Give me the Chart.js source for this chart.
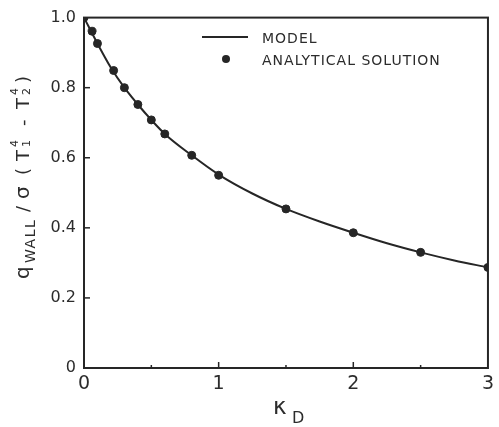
<!DOCTYPE html>
<html>
<head>
<meta charset="utf-8">
<script src="https://cdn.jsdelivr.net/npm/chart.js@4.4.1/dist/chart.umd.min.js"></script>
<style>
  html, body { margin: 0; padding: 0; background: #fff; }
  #wrap { width: 499px; height: 427px; position: relative; }
</style>
</head>
<body>
<div id="wrap"><canvas id="c"></canvas></div>
<script>
// ---- data ----
const kappaD = [0, 0.06, 0.1, 0.22, 0.3, 0.4, 0.5, 0.6, 0.8, 1.0, 1.5, 2.0, 2.5, 3.0];
const analyticalSolution = [1.0, 0.961, 0.926, 0.849, 0.80, 0.752, 0.708, 0.668, 0.607, 0.55, 0.454, 0.386, 0.33, 0.287];
const modelX = [0, 0.1, 0.2, 0.3, 0.4, 0.5, 0.6, 0.8, 1.0, 1.25, 1.5, 1.75, 2.0, 2.25, 2.5, 2.75, 3.0];
const modelY = [1.0, 0.926, 0.857, 0.80, 0.752, 0.708, 0.668, 0.607, 0.552, 0.498, 0.454, 0.418, 0.386, 0.356, 0.33, 0.307, 0.287];
const xTicks = [0, 1, 2, 3];
const xMinorTicks = [0.5, 1.5, 2.5];
const yTicks = [0, 0.2, 0.4, 0.6, 0.8, 1.0];
const legendLabels = ["MODEL", "ANALYTICAL SOLUTION"];

const INK = '#262626';
const TXT = '#2c2c2c';
const FONT = '"DejaVu Sans", "Liberation Sans", sans-serif';

const framePlugin = {
  id: 'frame',
  afterDatasetsDraw(chart) {
    const { ctx, chartArea: a, scales } = chart;
    ctx.save();
    ctx.strokeStyle = INK;
    ctx.lineWidth = 2;
    ctx.strokeRect(a.left, a.top, a.right - a.left, a.bottom - a.top);
    ctx.lineWidth = 1.5;
    yTicks.forEach(v => {
      if (v === 0 || v === 1) return;
      const y = scales.y.getPixelForValue(v);
      ctx.beginPath(); ctx.moveTo(a.left, y); ctx.lineTo(a.left + 6, y); ctx.stroke();
    });
    xTicks.forEach(v => {
      if (v === 0 || v === 3) return;
      const x = scales.x.getPixelForValue(v);
      ctx.beginPath(); ctx.moveTo(x, a.bottom); ctx.lineTo(x, a.bottom - 6); ctx.stroke();
    });
    xMinorTicks.forEach(v => {
      const x = scales.x.getPixelForValue(v);
      ctx.beginPath(); ctx.moveTo(x, a.bottom); ctx.lineTo(x, a.bottom - 3); ctx.stroke();
    });
    ctx.restore();
  }
};

const textPlugin = {
  id: 'texts',
  afterDraw(chart) {
    const { ctx } = chart;
    ctx.save();
    ctx.strokeStyle = INK;
    // legend
    ctx.lineWidth = 2;
    ctx.beginPath(); ctx.moveTo(202, 37); ctx.lineTo(248, 37); ctx.stroke();
    ctx.beginPath(); ctx.arc(226, 59, 4, 0, Math.PI * 2); ctx.fillStyle = INK; ctx.fill();
    ctx.fillStyle = TXT;
    ctx.font = '14px ' + FONT;
    ctx.textAlign = 'left';
    ctx.textBaseline = 'alphabetic';
    if ('letterSpacing' in ctx) ctx.letterSpacing = '1px';
    ctx.fillText(legendLabels[0], 262, 43);
    ctx.fillText(legendLabels[1], 262, 65);
    if ('letterSpacing' in ctx) ctx.letterSpacing = '0px';

    // x title: kappa_D
    ctx.font = '23px ' + FONT;
    ctx.fillText('κ', 273, 414);
    ctx.font = '16px ' + FONT;
    ctx.fillText('D', 292, 423);

    // y title (rotated): q_WALL / σ (T1^4 - T2^4)
    const base = 29;
    const segs = [
      { t: 'q', y: 279, f: 20, dx: 0 },
      { t: 'WALL', y: 263, f: 14, dx: 6, ls: 1.5 },
      { t: '/', y: 212, f: 18, dx: 0 },
      { t: 'σ', y: 199, f: 20, dx: 0 },
      { t: '(', y: 175, f: 18, dx: 0 },
      { t: 'T', y: 161, f: 18, dx: 0 },
      { t: '4', y: 147, f: 11, dx: -11 },
      { t: '1', y: 147, f: 11, dx: 1 },
      { t: '-', y: 126, f: 18, dx: 0 },
      { t: 'T', y: 109, f: 18, dx: 0 },
      { t: '4', y: 95, f: 11, dx: -11 },
      { t: '2', y: 95, f: 11, dx: 1 },
      { t: ')', y: 83, f: 18, dx: 0 }
    ];
    segs.forEach(s => {
      ctx.save();
      ctx.translate(base + s.dx, s.y);
      ctx.rotate(-Math.PI / 2);
      ctx.font = s.f + 'px ' + FONT;
      if ('letterSpacing' in ctx) ctx.letterSpacing = (s.ls || 0) + 'px';
      ctx.fillText(s.t, 0, 0);
      ctx.restore();
    });
    ctx.restore();
  }
};

new Chart(document.getElementById('c'), {
  type: 'scatter',
  data: {
    datasets: [
      {
        label: legendLabels[0],
        data: modelX.map((x, i) => ({ x, y: modelY[i] })),
        showLine: true,
        borderColor: INK,
        borderWidth: 2,
        pointRadius: 0,
        cubicInterpolationMode: 'monotone',
        fill: false
      },
      {
        label: legendLabels[1],
        data: kappaD.map((x, i) => ({ x, y: analyticalSolution[i] })),
        showLine: false,
        backgroundColor: INK,
        borderColor: INK,
        pointRadius: 4,
        pointStyle: 'circle'
      }
    ]
  },
  options: {
    responsive: true,
    maintainAspectRatio: false,
    animation: false,
    layout: { padding: { left: 0, right: 6, top: 13, bottom: 0 } },
    plugins: { legend: { display: false }, tooltip: { enabled: false } },
    scales: {
      x: {
        type: 'linear', min: 0, max: 3,
        afterFit(s) { s.height = 59; },
        afterBuildTicks(s) { s.ticks = xTicks.map(v => ({ value: v })); },
        ticks: { color: TXT, font: { family: FONT, size: 19 }, padding: 5, maxRotation: 0,
                 callback: v => String(v) },
        grid: { display: true, drawOnChartArea: false, drawTicks: false },
        border: { display: true, color: INK, width: 2 }
      },
      y: {
        type: 'linear', min: 0, max: 1.0,
        afterFit(s) { s.width = 84; },
        afterBuildTicks(s) { s.ticks = yTicks.map(v => ({ value: v })); },
        ticks: { color: TXT, font: { family: FONT, size: 16 }, padding: 8,
                 callback: v => (v === 0 ? '0' : Number(v).toFixed(1)) },
        grid: { display: true, drawOnChartArea: false, drawTicks: false },
        border: { display: true, color: INK, width: 2 }
      }
    }
  },
  plugins: [framePlugin, textPlugin]
});
</script>
</body>
</html>
